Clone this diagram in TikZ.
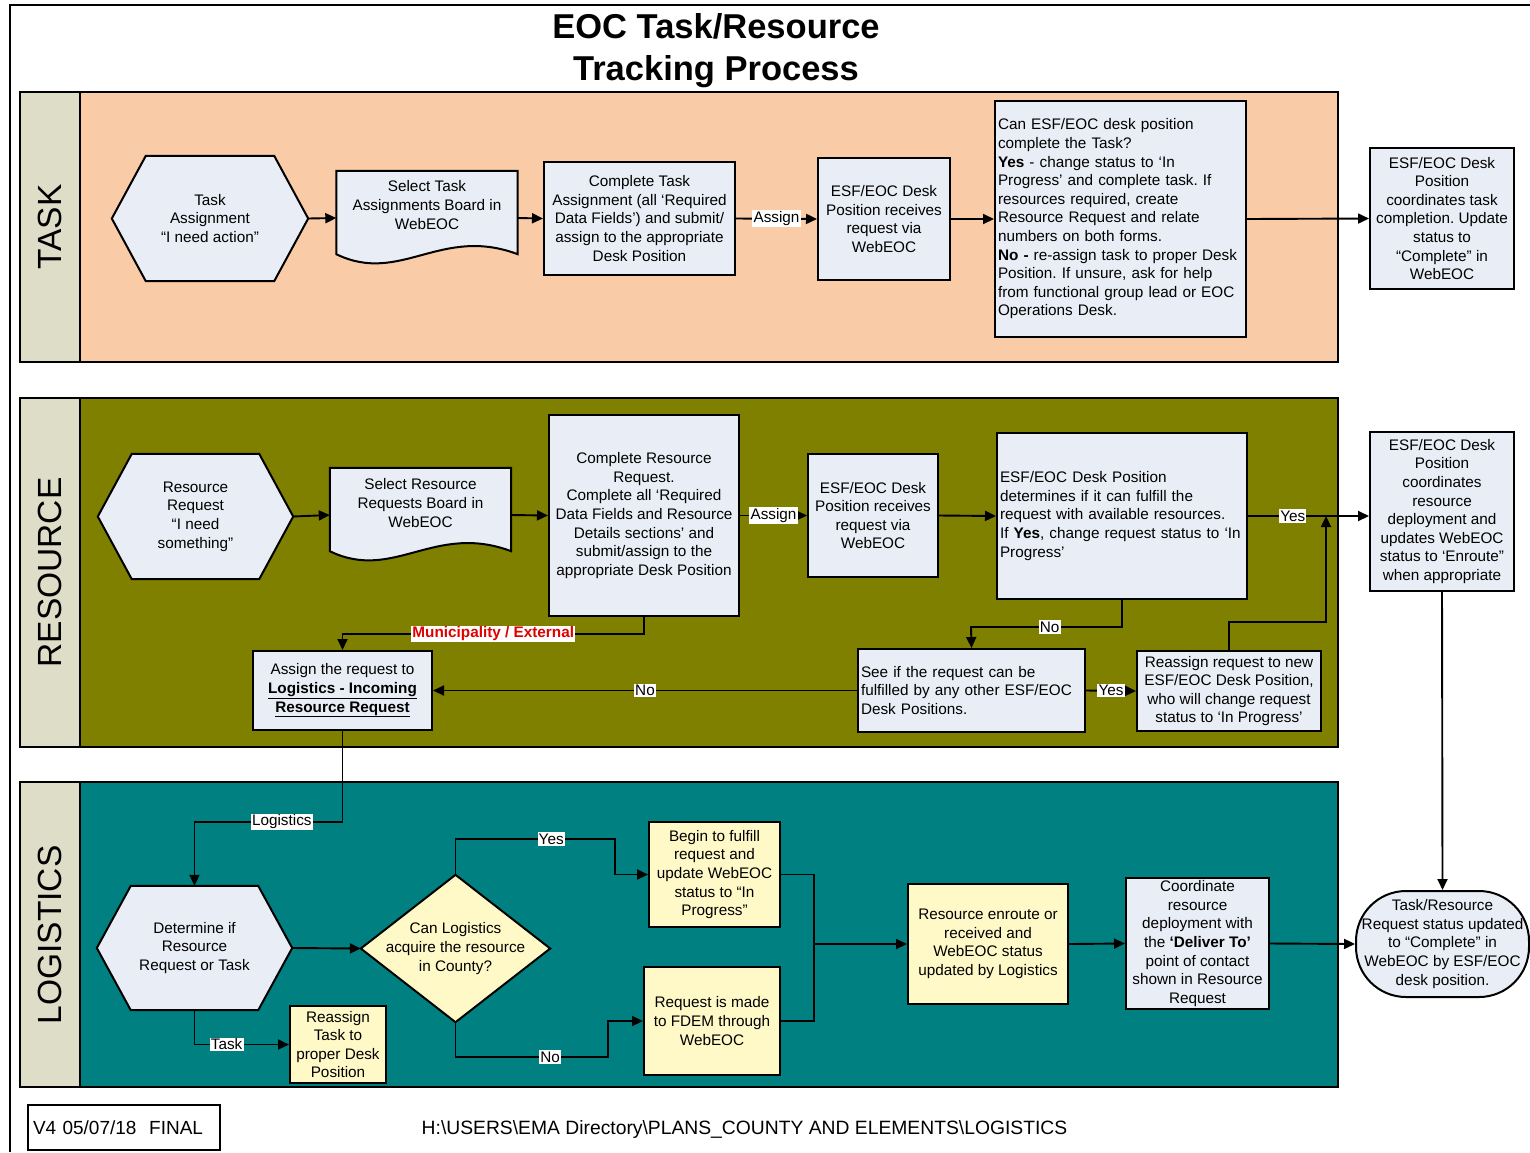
\documentclass[tikz,border=0pt]{standalone}
\usepackage{fontspec}
\setmainfont{Liberation Sans}
\usetikzlibrary{arrows.meta,calc}
\definecolor{peach}{HTML}{F9CBA7}
\definecolor{strip}{HTML}{DDDDC8}
\definecolor{olivebg}{HTML}{808000}
\definecolor{tealbg}{HTML}{008080}
\definecolor{boxfill}{HTML}{E9EDF5}
\definecolor{ybox}{HTML}{FFF9C8}
\definecolor{redtxt}{HTML}{E00000}
\newcommand{\fs}{\fontsize{15.3}{18.6}\selectfont}
\frenchspacing
\pgfdeclarelayer{bg}
\pgfdeclarelayer{shp}
\pgfsetlayers{bg,shp,main}
\newcommand{\HexOf}[1]{\draw[shapeline, fill=boxfill] (#1.west) -- ([xshift=34pt]#1.north west) -- ([xshift=-34pt]#1.north east) -- (#1.east) -- ([xshift=-34pt]#1.south east) -- ([xshift=34pt]#1.south west) -- cycle;}
\newcommand{\DocOf}[1]{\draw[shapeline, fill=boxfill] (#1.north west) -- (#1.north east) -- ([yshift=11pt]#1.south east) .. controls ([xshift=-77pt,yshift=40pt]#1.south east) and ([xshift=64pt,yshift=-20pt]#1.south west) .. ([yshift=11pt]#1.south west) -- cycle;}
\tikzset{
 lane/.style={draw, line width=2pt},
 bx/.style={draw, line width=2pt, fill=boxfill, align=center, inner sep=2pt, font=\fs},
 ybx/.style={bx, fill=ybox},
 lbx/.style={bx, align=left, inner ysep=5pt, inner xsep=3pt},
 txt/.style={align=center, inner sep=0pt, font=\fs},
 shapeline/.style={draw, line width=2pt},
 conn/.style={line width=1.9pt},
 arr/.style={conn, -{Triangle[length=11pt,width=10pt]}},
 lbl/.style={fill=white, inner sep=1.2pt, font=\fs},
 lanetext/.style={font=\fontsize{33.5}{40}\selectfont, rotate=90, inner sep=0pt},
}
\begin{document}
\begin{tikzpicture}[x=1pt,y=-1pt]
\useasboundingbox (0,0) rectangle (1530,1152);
\begin{pgfonlayer}{bg}
\fill[white] (0,0) rectangle (1530,1152);
\draw[line width=1.6pt] (1530,5) -- (10,5) -- (10,1152);
\draw[lane, fill=peach] (20,92) rectangle (1338,362);
\draw[lane, fill=strip] (20,92) rectangle (80,362);
\draw[lane, fill=olivebg] (20,398) rectangle (1338,747);
\draw[lane, fill=strip] (20,398) rectangle (80,747);
\draw[lane, fill=tealbg] (20,782) rectangle (1338,1087);
\draw[lane, fill=strip] (20,782) rectangle (80,1087);
\end{pgfonlayer}

% title and lane labels
\node[align=center, font=\fontsize{34.5}{42}\selectfont\bfseries] (title) at (716,51) {EOC Task/Resource\\Tracking Process};
\node[lanetext] (labT) at (50,227) {TASK};
\node[lanetext] (labR) at (50,572.5) {RESOURCE};
\node[lanetext] (labL) at (50,935) {LOGISTICS};

% ---------- TASK lane ----------
\node[txt, minimum width=196pt, minimum height=125pt] (hexT) at (210,218.5) {Task\\Assignment\\“I need action”};
\node[inner sep=0pt, minimum width=181pt, minimum height=94pt] (docT) at (427,218) {};
\node[txt] (docTt) at (427,205) {Select Task\\Assignments Board in\\WebEOC};
\node[bx, minimum width=191pt, minimum height=113pt] (boxT1) at (639.5,218.5) {Complete Task\\Assignment (all ‘Required\\Data Fields’) and submit/\\assign to the appropriate\\Desk Position};
\node[bx, minimum width=132pt, minimum height=122pt] (boxT2) at (884,219) {ESF/EOC Desk\\Position receives\\request via\\WebEOC};
\node[lbx, text width=245pt, minimum height=236pt] (boxT3) at (1120.5,219) {Can ESF/EOC desk position\\complete the Task?\\\textbf{Yes} - change status to ‘In\\Progress’ and complete task. If\\resources required, create\\Resource Request and relate\\numbers on both forms.\\\textbf{No -} re-assign task to proper Desk\\Position. If unsure, ask for help\\from functional group lead or EOC\\Operations Desk.};
\node[bx, minimum width=144pt, minimum height=141pt] (boxT4) at (1442,218.5) {ESF/EOC Desk\\Position\\coordinates task\\completion. Update\\status to\\“Complete” in\\WebEOC};

% ---------- RESOURCE lane ----------
\node[txt, minimum width=195pt, minimum height=125pt] (hexR) at (195.5,516.5) {Resource\\Request\\“I need\\something”};
\node[inner sep=0pt, minimum width=181pt, minimum height=94pt] (docR) at (420.5,515) {};
\node[txt] (docRt) at (420.5,503) {Select Resource\\Requests Board in\\WebEOC};
\node[bx, minimum width=190pt, minimum height=201pt] (boxR1) at (644,515.5) {Complete Resource\\Request.\\Complete all ‘Required\\Data Fields and Resource\\Details sections’ and\\submit/assign to the\\appropriate Desk Position};
\node[bx, minimum width=130pt, minimum height=123pt] (boxR2) at (873,515.5) {ESF/EOC Desk\\Position receives\\request via\\WebEOC};
\node[lbx, text width=244pt, minimum height=166pt] (boxR3) at (1122,516) {ESF/EOC Desk Position\\determines if it can fulfill the\\request with available resources.\\If \textbf{Yes}, change request status to ‘In\\Progress’};
\node[bx, minimum width=144pt, minimum height=159pt] (boxR4) at (1442,511.5) {ESF/EOC Desk\\Position\\coordinates\\resource\\deployment and\\updates WebEOC\\status to ‘Enroute”\\when appropriate};
\node[lbx, text width=221pt, minimum height=83pt] (seeIf) at (971.5,690.5) {See if the request can be\\fulfilled by any other ESF/EOC\\Desk Positions.};
\node[bx, minimum width=184pt, minimum height=80pt] (reassignR) at (1229,691) {Reassign request to new\\ESF/EOC Desk Position,\\who will change request\\status to ‘In Progress’};
\node[bx, minimum width=179pt, minimum height=79pt] (assignLog) at (342.5,690.5) {Assign the request to\\\underline{\textbf{Logistics - Incoming}}\\\underline{\textbf{Resource Request}}};

% ---------- LOGISTICS lane ----------
\node[txt, minimum width=195pt, minimum height=124pt] (hexL) at (194.5,948) {Determine if\\Resource\\Request or Task};
\node[txt, minimum width=189pt, minimum height=147pt] (dia) at (455.5,948.5) {Can Logistics\\acquire the resource\\in County?};
\node[ybx, minimum width=131pt, minimum height=105pt] (begin) at (714.5,874.5) {Begin to fulfill\\request and\\update WebEOC\\status to “In\\Progress”};
\node[ybx, minimum width=136pt, minimum height=108pt] (fdem) at (712,1021) {Request is made\\to FDEM through\\WebEOC};
\node[ybx, minimum width=160pt, minimum height=120pt] (enroute) at (988,944) {Resource enroute or\\received and\\WebEOC status\\updated by Logistics};
\node[bx, minimum width=143pt, minimum height=131pt] (coord) at (1197.5,943.5) {Coordinate\\resource\\deployment with\\the \textbf{‘Deliver To’}\\point of contact\\shown in Resource\\Request};
\node[ybx, minimum width=96pt, minimum height=77pt] (reassignTask) at (338,1044.5) {Reassign\\Task to\\proper Desk\\Position};
\node[bx, rounded corners=50pt, minimum width=173pt, minimum height=106pt] (endN) at (1442.5,944) {Task/Resource\\Request status updated\\to “Complete” in\\WebEOC by ESF/EOC\\desk position.};

% shapes drawn below their text
\begin{pgfonlayer}{shp}
\HexOf{hexT}
\HexOf{hexR}
\HexOf{hexL}
\DocOf{docT}
\DocOf{docR}
\draw[shapeline, fill=ybox] (dia.west) -- (dia.north) -- (dia.east) -- (dia.south) -- cycle;
\end{pgfonlayer}

% footer
\node[draw, line width=1.8pt, minimum width=192pt, minimum height=45pt, text width=182pt, align=left, inner sep=5pt, font=\fontsize{19}{22}\selectfont] (ver) at (124,1127.5) {V4 05/07/18\ \ FINAL};
\node[font=\fontsize{19.3}{22}\selectfont, inner sep=0pt] (pathtxt) at (744.5,1129) {H:\textbackslash USERS\textbackslash EMA Directory\textbackslash PLANS\_COUNTY AND ELEMENTS\textbackslash LOGISTICS};

% ---------- connectors: TASK ----------
\draw[arr] (hexT.east) -- (docT.west);
\draw[arr] (docT.east) -- (boxT1.west);
\draw[arr] (boxT1.east) -- node[lbl]{Assign} (boxT2.west);
\draw[arr] (boxT2.east) -- (boxT3.west);
\draw[arr] (boxT3.east) -- (boxT4.west);

% ---------- connectors: RESOURCE ----------
\draw[arr] (hexR.east) -- (docR.west);
\draw[arr] (docR.east) -- (boxR1.west);
\draw[arr] (boxR1.east) -- node[lbl]{Assign} (boxR2.west);
\draw[arr] (boxR2.east) -- (boxR3.west);
\draw[arr] (boxR3.east) -- node[lbl, pos=0.37]{Yes} (boxR3.east -| boxR4.west);
\coordinate (nk2) at (971,627);
\draw[arr] (boxR3.south) |- node[lbl, pos=0.74]{No} (nk2) -- (seeIf.north);
\draw[arr] (seeIf.east) -- node[lbl]{Yes} (reassignR.west);
\coordinate (yesj) at (1326,516);
\draw[arr] (reassignR.north) -- ++(0,-28) -| (yesj);
\draw[arr] (seeIf.west) -- node[lbl]{No} (assignLog.east);
\coordinate (mk) at (342.5,634);
\draw[arr] (boxR1.south) |- node[lbl, pos=0.75, text=redtxt, font=\fs\bfseries]{Municipality / External} (mk) -- (assignLog.north);
\draw[arr] (boxR4.south) -- (endN.north);

% ---------- connectors: LOGISTICS ----------
\coordinate (lk) at (194.5,822);
\draw[arr] (assignLog.south) |- node[lbl, pos=0.705]{Logistics} (lk) -- (hexL.north);
\draw[arr] (hexL.east) -- (dia.west);
\draw[arr] (hexL.south) |- node[lbl, pos=0.67]{Task} (reassignTask.west);
\coordinate (yk1) at (615,839);
\draw[arr] (dia.north) |- node[lbl, pos=0.8]{Yes} (yk1) -- (yk1 |- begin.west) -- (begin.west);
\coordinate (nk1) at (608,1057);
\draw[arr] (dia.south) |- node[lbl, pos=0.81]{No} (nk1) -- (nk1 |- fdem.west) -- (fdem.west);
\coordinate (mrg) at (814,944);
\draw[conn] (begin.east) -- (begin.east -| mrg) -- (fdem.east -| mrg) -- (fdem.east);
\draw[arr] (mrg) -- (enroute.west);
\draw[arr] (enroute.east) -- (coord.west);
\draw[arr] (coord.east) -- (endN.west);
\end{tikzpicture}
\end{document}
